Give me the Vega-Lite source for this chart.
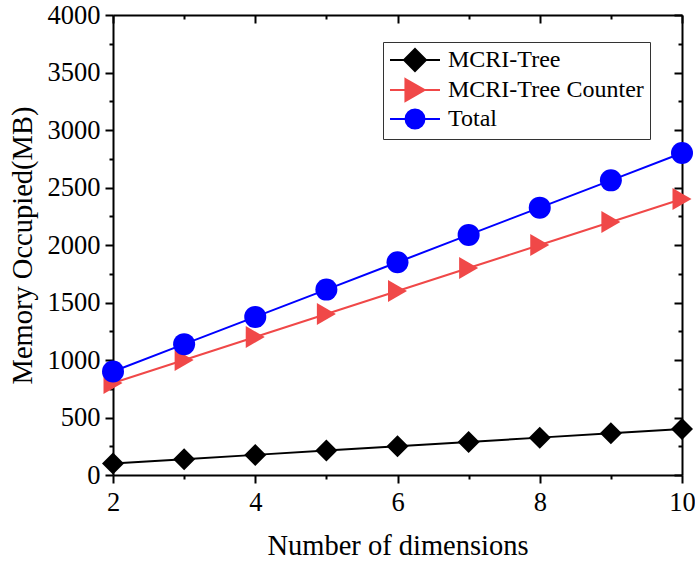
{
  "$schema": "https://vega.github.io/schema/vega-lite/v6.json",
  "width": 569,
  "height": 460,
  "autosize": {"type": "none"},
  "padding": {"left": 113, "top": 15, "right": 13, "bottom": 87},
  "config": {
    "view": {"stroke": null},
    "font": "Liberation Serif",
    "axis": {
      "grid": false,
      "domainColor": "black",
      "domainWidth": 2,
      "tickColor": "black",
      "tickWidth": 2,
      "labelColor": "black",
      "titleColor": "black",
      "labelFont": "Liberation Serif",
      "titleFont": "Liberation Serif",
      "labelFontSize": 26.5,
      "titleFontSize": 28.5,
      "titleFontWeight": "normal"
    }
  },
  "data": {
    "values": [
      {"dim": 2, "series": "MCRI-Tree", "marker": "diamond", "mem": 100},
      {"dim": 3, "series": "MCRI-Tree", "marker": "diamond", "mem": 138},
      {"dim": 4, "series": "MCRI-Tree", "marker": "diamond", "mem": 175},
      {"dim": 5, "series": "MCRI-Tree", "marker": "diamond", "mem": 212},
      {"dim": 6, "series": "MCRI-Tree", "marker": "diamond", "mem": 250},
      {"dim": 7, "series": "MCRI-Tree", "marker": "diamond", "mem": 288},
      {"dim": 8, "series": "MCRI-Tree", "marker": "diamond", "mem": 325},
      {"dim": 9, "series": "MCRI-Tree", "marker": "diamond", "mem": 362},
      {"dim": 10, "series": "MCRI-Tree", "marker": "diamond", "mem": 400},
      {"dim": 2, "series": "MCRI-Tree Counter", "marker": "triangle", "mem": 800},
      {"dim": 3, "series": "MCRI-Tree Counter", "marker": "triangle", "mem": 1000},
      {"dim": 4, "series": "MCRI-Tree Counter", "marker": "triangle", "mem": 1200},
      {"dim": 5, "series": "MCRI-Tree Counter", "marker": "triangle", "mem": 1400},
      {"dim": 6, "series": "MCRI-Tree Counter", "marker": "triangle", "mem": 1600},
      {"dim": 7, "series": "MCRI-Tree Counter", "marker": "triangle", "mem": 1800},
      {"dim": 8, "series": "MCRI-Tree Counter", "marker": "triangle", "mem": 2000},
      {"dim": 9, "series": "MCRI-Tree Counter", "marker": "triangle", "mem": 2200},
      {"dim": 10, "series": "MCRI-Tree Counter", "marker": "triangle", "mem": 2400},
      {"dim": 2, "series": "Total", "marker": "circle", "mem": 900},
      {"dim": 3, "series": "Total", "marker": "circle", "mem": 1138},
      {"dim": 4, "series": "Total", "marker": "circle", "mem": 1375},
      {"dim": 5, "series": "Total", "marker": "circle", "mem": 1612},
      {"dim": 6, "series": "Total", "marker": "circle", "mem": 1850},
      {"dim": 7, "series": "Total", "marker": "circle", "mem": 2088},
      {"dim": 8, "series": "Total", "marker": "circle", "mem": 2325},
      {"dim": 9, "series": "Total", "marker": "circle", "mem": 2562},
      {"dim": 10, "series": "Total", "marker": "circle", "mem": 2800}
    ]
  },
  "layer": [
    {
      "mark": {"type": "line", "strokeWidth": 2},
      "encoding": {
        "x": {"field": "dim", "type": "quantitative", "scale": {"domain": [2, 10], "nice": false, "zero": false},
          "axis": {"orient": "bottom", "values": [2, 4, 6, 8, 10], "format": "d", "tickSize": 8, "labelPadding": 6, "title": "Number of dimensions", "titlePadding": 16, "labelFlush": false}},
        "y": {"field": "mem", "type": "quantitative", "scale": {"domain": [0, 4000], "nice": false},
          "axis": {"orient": "left", "values": [0, 500, 1000, 1500, 2000, 2500, 3000, 3500, 4000], "format": "d", "tickSize": 8, "labelPadding": 5, "title": "Memory Occupied(MB)", "titlePadding": 10, "labelFlush": false}},
        "color": {"field": "series", "type": "nominal",
          "scale": {"domain": ["MCRI-Tree", "MCRI-Tree Counter", "Total"], "range": ["black", "#F04848", "#0000FF"]},
          "legend": {
            "title": null, "orient": "none", "legendX": 270, "legendY": 27,
            "labelFont": "Liberation Serif", "labelFontSize": 24, "labelColor": "black", "labelLimit": 400,
            "symbolSize": 484, "symbolStrokeWidth": 2, "symbolOffset": 14, "labelOffset": 21,
            "rowPadding": 0, "padding": 6, "strokeColor": "#333", "fillColor": "white",
            "encode": {"symbols": {"update": {
              "shape": {"signal": "datum.value === 'MCRI-Tree' ? 'M-2.27,0H2.27M0,-1L1,0L0,1L-1,0Z' : datum.value === 'Total' ? 'M-2.27,0H2.27M0.86,0A0.86,0.86 0 1,1 -0.86,0A0.86,0.86 0 1,1 0.86,0Z' : 'M-2.27,0H2.27M-0.87,-1L0.87,0L-0.87,1Z'"},
              "fill": {"signal": "scale('color', datum.value)"},
              "opacity": {"value": 1}
            }}}
          }}
      }
    },
    {
      "mark": {"type": "point", "filled": true, "opacity": 1},
      "encoding": {
        "x": {"field": "dim", "type": "quantitative",
          "axis": {"orient": "top", "values": [2, 4, 6, 8, 10], "tickSize": -8, "labels": false, "title": null}},
        "y": {"field": "mem", "type": "quantitative",
          "axis": {"orient": "right", "values": [0, 500, 1000, 1500, 2000, 2500, 3000, 3500, 4000], "tickSize": -8, "labels": false, "title": null}},
        "fill": {"field": "marker", "type": "nominal", "legend": null,
          "scale": {"domain": ["diamond", "triangle", "circle"], "range": ["black", "#F04848", "#0000FF"]}},
        "shape": {"field": "marker", "type": "nominal", "legend": null,
          "scale": {"domain": ["diamond", "triangle", "circle"], "range": ["diamond", "triangle-right", "circle"]}},
        "size": {"field": "marker", "type": "nominal", "legend": null,
          "scale": {"domain": ["diamond", "triangle", "circle"], "range": [484, 484, 324]}}
      }
    },
    {
      "mark": {"type": "point", "opacity": 0},
      "encoding": {
        "x": {"field": "dim", "type": "quantitative",
          "axis": {"orient": "bottom", "values": [3, 5, 7, 9], "tickSize": 4, "labels": false, "domain": false, "title": null}},
        "y": {"field": "mem", "type": "quantitative",
          "axis": {"orient": "left", "values": [250, 750, 1250, 1750, 2250, 2750, 3250, 3750], "tickSize": 4, "labels": false, "domain": false, "title": null}}
      }
    },
    {
      "mark": {"type": "point", "opacity": 0},
      "encoding": {
        "x": {"field": "dim", "type": "quantitative",
          "axis": {"orient": "top", "values": [3, 5, 7, 9], "tickSize": -4, "labels": false, "domain": false, "title": null}},
        "y": {"field": "mem", "type": "quantitative",
          "axis": {"orient": "right", "values": [250, 750, 1250, 1750, 2250, 2750, 3250, 3750], "tickSize": -4, "labels": false, "domain": false, "title": null}}
      }
    }
  ],
  "resolve": {"axis": {"x": "independent", "y": "independent"}}
}
